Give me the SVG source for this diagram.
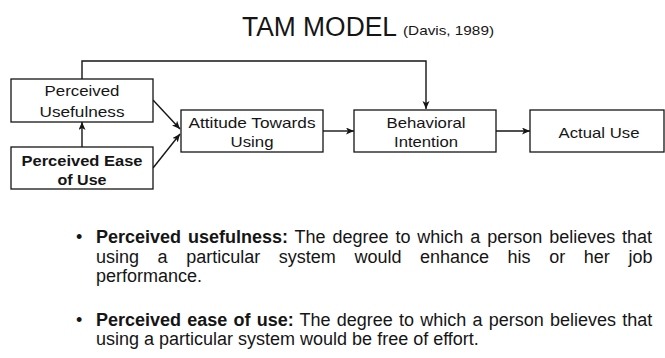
<svg xmlns="http://www.w3.org/2000/svg" width="665" height="358" viewBox="0 0 665 358">
<style>
.box{fill:#fff;stroke:#151515;stroke-width:1.3}
.lbl{font-family:"Liberation Sans",Arial,sans-serif;font-size:15px;fill:#151515;text-anchor:middle}
.bld{font-weight:bold}
.con{fill:none;stroke:#151515;stroke-width:1.4}
.body{font-family:"Liberation Sans",Arial,sans-serif;font-size:18px;fill:#151515}
</style>
<defs>
<marker id="ah" markerUnits="userSpaceOnUse" markerWidth="9" markerHeight="8" refX="8" refY="3.5" orient="auto">
<path d="M0,0 L8,3.5 L0,7 L2,3.5 z" fill="#151515"/>
</marker>
</defs>
<rect width="665" height="358" fill="#fff"/>
<g id="title">
<text x="242" y="36" font-family="Liberation Sans,Arial,sans-serif" font-size="27" fill="#151515" textLength="155" lengthAdjust="spacingAndGlyphs">TAM MODEL</text>
<text x="403" y="35" font-family="Liberation Sans,Arial,sans-serif" font-size="13.5" fill="#151515" textLength="91" lengthAdjust="spacingAndGlyphs">(Davis, 1989)</text>
</g>
<g id="connectors">
<path class="con" d="M82,79 V61 H426 V109" marker-end="url(#ah)"/>
<path class="con" d="M82,147 V122" marker-end="url(#ah)"/>
<path class="con" d="M153,100 L180,129" marker-end="url(#ah)"/>
<path class="con" d="M153,168 L180,134" marker-end="url(#ah)"/>
<path class="con" d="M323,131 H354" marker-end="url(#ah)"/>
<path class="con" d="M496,131 H530" marker-end="url(#ah)"/>
</g>
<g id="pu">
<rect class="box" x="11" y="79" width="142" height="43"/>
<text class="lbl" x="82" y="96" textLength="75" lengthAdjust="spacingAndGlyphs">Perceived</text>
<text class="lbl" x="82" y="117" textLength="85" lengthAdjust="spacingAndGlyphs">Usefulness</text>
</g>
<g id="peou">
<rect class="box" x="11" y="147" width="142" height="42"/>
<text class="lbl bld" x="82" y="166" textLength="121" lengthAdjust="spacingAndGlyphs">Perceived Ease</text>
<text class="lbl bld" x="82" y="185" textLength="49" lengthAdjust="spacingAndGlyphs">of Use</text>
</g>
<g id="atu">
<rect class="box" x="181" y="110" width="142" height="42"/>
<text class="lbl" x="252" y="128" textLength="127" lengthAdjust="spacingAndGlyphs">Attitude Towards</text>
<text class="lbl" x="252" y="147" textLength="43" lengthAdjust="spacingAndGlyphs">Using</text>
</g>
<g id="bi">
<rect class="box" x="354" y="110" width="142" height="42"/>
<text class="lbl" x="426" y="128" textLength="79" lengthAdjust="spacingAndGlyphs">Behavioral</text>
<text class="lbl" x="426" y="147" textLength="64" lengthAdjust="spacingAndGlyphs">Intention</text>
</g>
<g id="au">
<rect class="box" x="530" y="110" width="134" height="42"/>
<text class="lbl" x="599" y="138" textLength="81" lengthAdjust="spacingAndGlyphs">Actual Use</text>
</g>
<g id="definitions">
<text class="body" x="76" y="243">•</text>
<text class="body" x="96" y="243" word-spacing="1.9"><tspan class="bld">Perceived usefulness:</tspan> The degree to which a person believes that</text>
<text class="body" y="263"><tspan x="96">using</tspan><tspan x="157.6">a</tspan><tspan x="186.2">particular</tspan><tspan x="278.8">system</tspan><tspan x="354.4">would</tspan><tspan x="420">enhance</tspan><tspan x="507.6">his</tspan><tspan x="549.2">or</tspan><tspan x="583.8">her</tspan><tspan x="628.4">job</tspan></text>
<text class="body" x="96" y="282">performance.</text>
<text class="body" x="76" y="326">•</text>
<text class="body" x="96" y="326" word-spacing="1.2"><tspan class="bld">Perceived ease of use:</tspan> The degree to which a person believes that</text>
<text class="body" x="96" y="345">using a particular system would be free of effort.</text>
</g>
</svg>
